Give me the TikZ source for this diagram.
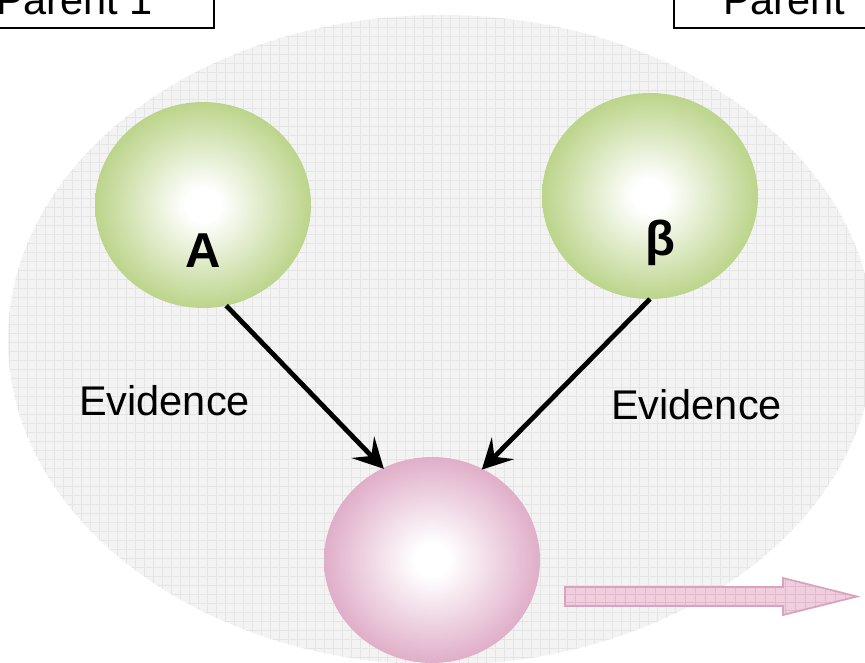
\documentclass[tikz,border=0pt]{standalone}
\usepackage{fontspec}
\setmainfont{Liberation Sans}
\usetikzlibrary{shapes.geometric,arrows.meta}
\definecolor{grball}{HTML}{B5D07F}
\definecolor{pkball}{HTML}{DDA6C3}
\definecolor{bgfill}{HTML}{F3F3F3}
\definecolor{bgline}{HTML}{E5E5E5}
\definecolor{arrfill}{HTML}{EFCFDE}
\definecolor{arrline}{HTML}{D9A2BE}
\definecolor{arrgrid}{HTML}{E2B9CC}
\pgfdeclareradialshading{greenball}{\pgfpoint{0bp}{0bp}}{color(0bp)=(white); color(4bp)=(white); color(27bp)=(grball); color(50bp)=(grball)}
\pgfdeclareradialshading{pinkball}{\pgfpoint{0bp}{0bp}}{color(0bp)=(white); color(4bp)=(white); color(27bp)=(pkball); color(50bp)=(pkball)}
\tikzset{
  ball/.style={ellipse, inner sep=0pt, outer sep=0pt, minimum width=216pt, minimum height=206pt},
  pbox/.style={draw=black, line width=1.8pt, fill=white, inner sep=0pt},
  bigtext/.style={font=\fontsize{41.5}{48}\selectfont, inner sep=0pt, text=black},
  ballabel/.style={font=\fontsize{49}{56}\selectfont\bfseries, inner sep=0pt, text=black},
  link/.style={line width=4.8pt, black, -{Stealth[length=30pt, width=31pt, inset=12pt]}, shorten >=-1pt},
}
\begin{document}
\begin{tikzpicture}[x=1pt, y=-1pt]
\useasboundingbox (0,0) rectangle (865,663);
% background ellipse with grid
\fill[bgfill] (441,340) ellipse [x radius=433, y radius=325];
\begin{scope}
  \clip (441,340) ellipse [x radius=433, y radius=325];
  \foreach \i in {0,9,...,870} {\draw[bgline, line width=0.7pt] (\i,0) -- (\i,663);}
  \foreach \j in {0,9,...,663} {\draw[bgline, line width=0.7pt] (0,\j) -- (865,\j);}
\end{scope}
% parent boxes
\node[pbox, minimum width=226pt, minimum height=60pt] (p1box) at (101,-2) {};
\node[bigtext, anchor=base west] (p1) at (-4,15) {Parent 1};
\node[pbox, minimum width=226pt, minimum height=60pt] (p2box) at (787,-2) {};
\node[bigtext, anchor=base west] (p2) at (723,15) {Parent};
% balls
\node[ball, shading=greenball] (A) at (203,205) {};
\node[ball, shading=greenball] (B) at (650,196) {};
\node[ball, shading=pinkball] (C) at (432,560) {};
\node[ballabel, anchor=base] (Alab) at (203,268) {A};
\node[ballabel, anchor=base] (Blab) at (660,256) {β};
% evidence labels
\node[bigtext, anchor=base west] (ev1) at (79,415) {Evidence};
\node[bigtext, anchor=base west] (ev2) at (611,419) {Evidence};
% arrows
\draw[link] (A.283) -- (C.118);
\draw[link] (B.270) -- (C.61);
% block arrow
\coordinate (ba) at (565,596.5);
\coordinate (bt) at (857,596.5);
\begin{scope}
  \clip (565,587) -- (783,587) -- (783,578) -- (857,596.5) -- (783,615) -- (783,606) -- (565,606) -- cycle;
  \fill[arrfill] (560,570) rectangle (860,620);
  \foreach \i in {565,575,...,860} {\draw[arrgrid, line width=0.7pt] (\i,570) -- (\i,620);}
  \foreach \j in {578,586,...,620} {\draw[arrgrid, line width=0.7pt] (560,\j) -- (860,\j);}
\end{scope}
\draw[arrline, line width=1.8pt, line join=miter] (565,587) -- (783,587) -- (783,578) -- (bt) -- (783,615) -- (783,606) -- (565,606) -- cycle;
\end{tikzpicture}
\end{document}
